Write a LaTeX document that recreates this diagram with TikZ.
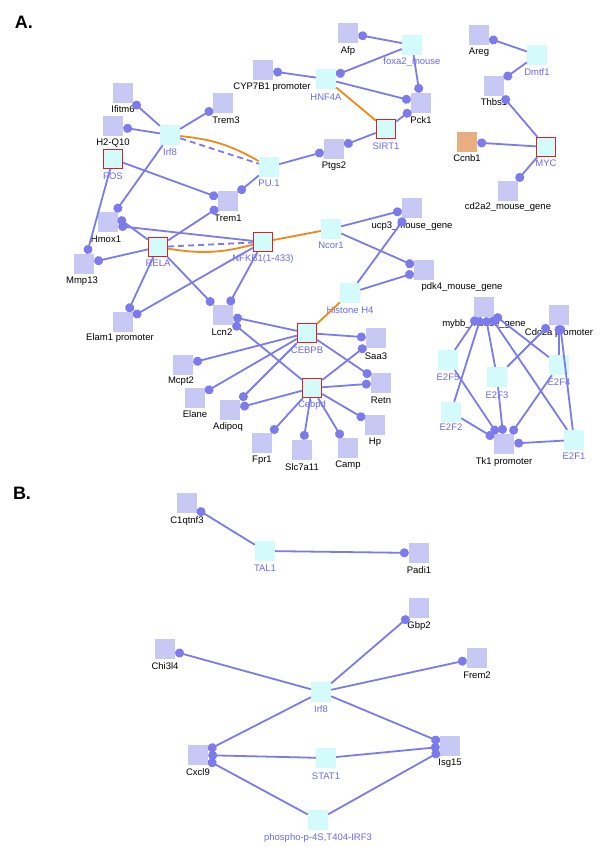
\documentclass[tikz,border=0pt]{standalone}
\usepackage{fontspec}
\setmainfont{Liberation Sans}
\usetikzlibrary{arrows.meta}
\definecolor{gsq}{HTML}{C8C8F5}
\definecolor{tsq}{HTML}{D4FBFB}
\definecolor{edge}{HTML}{7B7BEE}
\definecolor{redb}{HTML}{DD2020}
\definecolor{oedge}{HTML}{EE8A1A}
\definecolor{ccn}{HTML}{E9AE80}
\definecolor{tlab}{HTML}{6A6AEE}
\tikzset{
 gene/.style={fill=gsq,minimum size=20pt,inner sep=0pt},
 targ/.style={fill=tsq,minimum size=20pt,inner sep=0pt},
 redt/.style={fill=tsq,draw=redb,line width=1.4pt,minimum size=19pt,inner sep=0pt},
 glab/.style={font=\fontsize{9.5}{10}\selectfont,text=black,inner sep=0pt},
 tlabs/.style={font=\fontsize{9.5}{10}\selectfont,text=tlab,inner sep=0pt},
 ed/.style={draw=edge,line width=1.8pt,-{Circle[length=9pt,width=9pt]}},
 dsh/.style={draw=edge,line width=1.8pt,dash pattern=on 6pt off 4pt},
 or/.style={draw=oedge,line width=1.8pt},
}
\begin{document}
\begin{tikzpicture}[x=1pt,y=-1pt]
\useasboundingbox (0,0) rectangle (600,847);
\fill[white] (0,0) rectangle (600,847);
\node[font=\fontsize{18}{18}\selectfont\bfseries\rmfamily] (lA) at (24,22) {A.};
\node[font=\fontsize{18}{18}\selectfont\bfseries\rmfamily] (lB) at (22,493) {B.};
\newcommand{\gn}[5]{\node[gene] (#1) at (#2) {}; \node[glab] (#1l) at (#3,#4) {#5};}
\newcommand{\tn}[5]{\node[targ] (#1) at (#2) {}; \node[tlabs] (#1l) at (#3,#4) {#5};}
\newcommand{\rn}[5]{\node[redt] (#1) at (#2) {}; \node[tlabs] (#1l) at (#3,#4) {#5};}
\gn{cyp}{263,70}{272}{87}{CYP7B1 promoter}
\gn{ifi}{123,93}{123}{109}{Ifitm6}
\gn{trem3}{223,103}{226}{120}{Trem3}
\gn{h2q}{113,126}{113}{143}{H2-Q10}
\tn{irf}{170,135}{170}{152}{Irf8}
\rn{fos}{113,159}{113}{176}{FOS}
\tn{pu}{269,167}{269}{183}{PU.1}
\gn{trem1}{228,201}{228}{218}{Trem1}
\gn{hmox}{108,222}{106}{239}{Hmox1}
\rn{rela}{158,247}{158}{263}{RELA}
\rn{nfkb}{263,242}{263}{259}{NFKB1(1-433)}
\tn{ncor}{331,229}{331}{245}{Ncor1}
\gn{mmp}{84,264}{82}{281}{Mmp13}
\gn{elam}{123,322}{120}{338}{Elam1 promoter}
\gn{lcn}{223,315}{222}{332}{Lcn2}
\tn{h4}{350,293}{350}{310}{Histone H4}
\rn{cebpb}{307,333}{307}{350}{CEBPB}
\gn{saa}{376,338}{376}{356}{Saa3}
\gn{mcpt}{183,365}{181}{381}{Mcpt2}
\rn{cebpd}{312,388}{312}{405}{Cebpd}
\gn{retn}{381,383}{381}{400}{Retn}
\gn{elane}{195,398}{195}{414}{Elane}
\gn{adip}{230,410}{228}{427}{Adipoq}
\gn{hp}{375,425}{375}{442}{Hp}
\gn{fpr}{262,443}{262}{460}{Fpr1}
\gn{slc}{302,450}{302}{467}{Slc7a11}
\gn{camp}{348,448}{348}{465}{Camp}
\gn{pdk}{424,270}{462}{287}{pdk4\_mouse\_gene}
\gn{ucp}{412,208}{412}{226}{ucp3\_mouse\_gene}
\gn{afp}{348,33}{348}{51}{Afp}
\tn{foxa}{412,45}{412}{62}{foxa2\_mouse}
\tn{hnf}{326,79}{326}{97}{HNF4A}
\gn{pck}{421,103}{421}{120}{Pck1}
\rn{sirt}{386,129}{386}{146}{SIRT1}
\gn{ptgs}{334,149}{334}{166}{Ptgs2}
\gn{areg}{479,35}{479}{52}{Areg}
\tn{dmtf}{537,55}{537}{72}{Dmtf1}
\gn{thbs}{494,86}{494}{102}{Thbs1}
\node[fill=ccn,minimum size=20pt,inner sep=0pt] (ccnb) at (467,142) {};
\node[glab] (ccnbl) at (467,158) {Ccnb1};
\rn{myc}{546,147}{546}{163}{MYC}
\gn{cd2}{508,191}{508}{207}{cd2a2\_mouse\_gene}
\gn{mybb}{484,307}{484}{324}{mybb\_mouse\_gene}
\gn{cdc}{559,315}{559}{333}{Cdc2a promoter}
\tn{ef5}{448,360}{448}{377}{E2F5}
\tn{ef3}{497,377}{497}{395}{E2F3}
\tn{ef4}{559,365}{559}{382}{E2F4}
\tn{ef2}{451,412}{451}{427}{E2F2}
\gn{tk}{504,444}{504}{462}{Tk1 promoter}
\tn{ef1}{574,440}{574}{456}{E2F1}
\gn{c1q}{187,503}{187}{521}{C1qtnf3}
\tn{tal}{265,551}{265}{568}{TAL1}
\gn{padi}{419,553}{419}{570}{Padi1}
\gn{gbp}{419,608}{419}{626}{Gbp2}
\gn{chi}{165,649}{165}{666}{Chi3l4}
\gn{frem}{477,658}{477}{675}{Frem2}
\tn{irfb}{321,692}{321}{709}{Irf8}
\gn{cxcl}{198,755}{198}{772}{Cxcl9}
\tn{stat}{326,758}{326}{776}{STAT1}
\gn{isg}{450,746}{450}{763}{Isg15}
\tn{pho}{318,820}{318}{838}{phospho-p-4S,T404-IRF3}
\draw[ed] (hnf) -- (cyp);
\draw[ed] (foxa) -- (hnf);
\draw[ed] (foxa) -- (afp);
\draw[ed] (foxa) -- (pck);
\draw[ed] (hnf) -- (pck);
\draw[ed] (sirt) -- (pck);
\draw[or] (hnf) -- (sirt);
\draw[ed] (sirt) -- (ptgs);
\draw[ed] (pu) -- (ptgs);
\draw[ed] (dmtf) -- (areg);
\draw[ed] (dmtf) -- (thbs);
\draw[ed] (myc) -- (thbs);
\draw[ed] (myc) -- (ccnb);
\draw[ed] (myc) -- (cd2);
\draw[ed] (irf) -- (ifi);
\draw[ed] (irf) -- (h2q);
\draw[ed] (irf) -- (trem3);
\draw[ed] (irf) -- (hmox);
\draw[or] (irf) to[bend left=12] (pu);
\draw[dsh] (irf) -- (pu);
\draw[ed] (fos) -- (trem1);
\draw[ed] (fos) -- (mmp);
\draw[ed] (pu) -- (trem1);
\draw[ed] (rela) -- (trem1);
\draw[ed] (nfkb) -- ([yshift=-4pt]hmox.east);
\draw[ed] (rela) -- ([yshift=4pt]hmox.east);
\draw[or] (rela) to[bend right=12] (nfkb);
\draw[dsh] (rela) -- (nfkb);
\draw[ed] (rela) -- (mmp);
\draw[ed] (rela) -- (elam);
\draw[ed] (nfkb) -- (elam);
\draw[ed] (rela) -- (lcn);
\draw[ed] (nfkb) -- (lcn);
\draw[or] (nfkb) -- (ncor);
\draw[ed] (ncor) -- (ucp);
\draw[ed] (ncor) -- (pdk);
\draw[ed] (h4) -- (ucp);
\draw[ed] (h4) -- (pdk);
\draw[or] (h4) -- (cebpb);
\draw[ed] (cebpb) -- (lcn);
\draw[ed] (cebpd) -- (lcn);
\draw[ed] (cebpb) -- (saa);
\draw[ed] (cebpb) -- (mcpt);
\draw[ed] (cebpb) -- (elane);
\draw[ed] (cebpb) -- (adip);
\draw[ed] (cebpb) -- (retn);
\draw[ed] (cebpd) -- (saa);
\draw[ed] (cebpd) -- (retn);
\draw[ed] (cebpd) -- (adip);
\draw[ed] (cebpd) -- (hp);
\draw[ed] (cebpd) -- (fpr);
\draw[ed] (cebpd) -- (slc);
\draw[ed] (cebpd) -- (camp);
\foreach \e in {ef5,ef2,ef3,ef4,ef1} {\draw[ed] (\e) -- (mybb); \draw[ed] (\e) -- (tk);}
\draw[ed] (ef3) -- (cdc);
\draw[ed] (ef4) -- (cdc);
\draw[ed] (ef1) -- (cdc);
\draw[ed] (tal) -- (c1q);
\draw[ed] (tal) -- (padi);
\draw[ed] (irfb) -- (gbp);
\draw[ed] (irfb) -- (chi);
\draw[ed] (irfb) -- (frem);
\draw[ed] (irfb) -- (cxcl);
\draw[ed] (irfb) -- (isg);
\draw[ed] (stat) -- (cxcl);
\draw[ed] (stat) -- (isg);
\draw[ed] (pho) -- (cxcl);
\draw[ed] (pho) -- (isg);
\end{tikzpicture}
\end{document}
